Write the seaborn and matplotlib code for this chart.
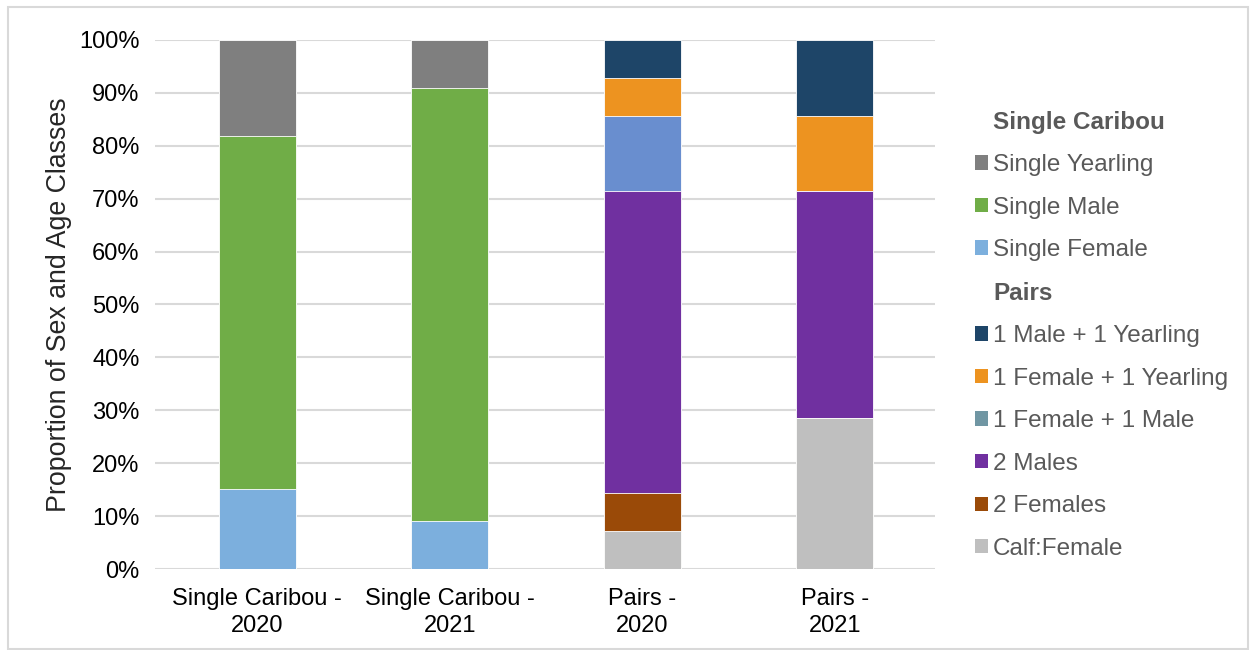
import matplotlib
matplotlib.use("Agg")
import matplotlib.pyplot as plt
import seaborn as sns
from matplotlib.patches import Patch, Rectangle
from matplotlib.ticker import PercentFormatter

# -----------------------------
# Data (percent of each group)
# -----------------------------
categories = ["Single Caribou -\n2020", "Single Caribou -\n2021", "Pairs -\n2020", "Pairs -\n2021"]

single_female = [15.2, 9.1, 0, 0]
single_male = [66.7, 81.8, 0, 0]
single_yearling = [18.1, 9.1, 0, 0]
calf_female = [0, 0, 7.1, 28.6]
two_females = [0, 0, 7.2, 0]
two_males = [0, 0, 57.1, 42.8]
female_male = [0, 0, 14.3, 0]
female_yearling = [0, 0, 7.1, 14.3]
male_yearling = [0, 0, 7.2, 14.3]

# stacking order, bottom to top: (label, values, bar colour, legend colour)
series = [
    ("Single Female", single_female, "#7CAFDD", "#7CAFDD"),
    ("Single Male", single_male, "#70AD47", "#70AD47"),
    ("Single Yearling", single_yearling, "#7F7F7F", "#7F7F7F"),
    ("Calf:Female", calf_female, "#BFBFBF", "#BFBFBF"),
    ("2 Females", two_females, "#9A4A08", "#9A4A08"),
    ("2 Males", two_males, "#7030A0", "#7030A0"),
    ("1 Female + 1 Male", female_male, "#698ECF", "#7096A3"),
    ("1 Female + 1 Yearling", female_yearling, "#ED9320", "#ED9320"),
    ("1 Male + 1 Yearling", male_yearling, "#1E4568", "#1E4568"),
]

sns.set_style("white")
plt.rcParams["font.family"] = ["Liberation Sans", "DejaVu Sans"]

fig = plt.figure(figsize=(12.5, 6.5), dpi=100)
ax = fig.add_axes([0.124, 0.1246, 0.624, 0.814])

# cumulative heights, drawn from the top down so lower segments sit in front
cum = [0.0] * len(categories)
stacks = []
for name, vals, bar_col, leg_col in series:
    cum = [c + v for c, v in zip(cum, vals)]
    stacks.append((cum, bar_col))

for heights, col in reversed(stacks):
    sns.barplot(x=categories, y=heights, color=col, saturation=1, width=0.4,
                edgecolor="white", linewidth=0.6, ax=ax)

ax.set_ylim(0, 100)
ax.set_xlim(-0.53, 3.52)
ax.set_yticks(range(0, 101, 10))
ax.yaxis.set_major_formatter(PercentFormatter(decimals=0))
ax.yaxis.grid(True, color="#D9D9D9", linewidth=1.5)
ax.set_axisbelow(True)
for s in ax.spines.values():
    s.set_visible(False)
ax.tick_params(axis="both", length=0, labelsize=17, colors="black")
ax.tick_params(axis="y", pad=11)
ax.tick_params(axis="x", pad=14)
for lbl in ax.get_xticklabels():
    lbl.set_linespacing(1.25)
ax.set_ylabel("Proportion of Sex and Age Classes", fontsize=19.3, labelpad=5)
ax.set_xlabel("")

# legend with group headers
blank = Patch(facecolor="none", edgecolor="none")
legend_order = [
    ("Single Caribou", None),
    ("Single Yearling", "#7F7F7F"),
    ("Single Male", "#70AD47"),
    ("Single Female", "#7CAFDD"),
    ("Pairs", None),
]
for name, vals, bar_col, leg_col in reversed(series[3:]):
    legend_order.append((name, leg_col))

handles = [blank if c is None else Patch(facecolor=c, edgecolor="none") for _, c in legend_order]
labels = [n for n, _ in legend_order]
leg = fig.legend(handles, labels, loc="upper left", bbox_to_anchor=(0.78, 0.83),
                 frameon=False, fontsize=17.5, handlelength=0.53, handleheight=0.53,
                 handletextpad=0.22, labelspacing=0.845, borderpad=0, borderaxespad=0)
for txt, (_, c) in zip(leg.get_texts(), legend_order):
    txt.set_color("#595959")
    if c is None:
        txt.set_fontweight("bold")

# light frame around the chart area
fig.patches.append(Rectangle((0.006, 0.002), 0.992, 0.987, transform=fig.transFigure,
                             fill=False, edgecolor="#D9D9D9", linewidth=1.5))

fig.savefig("out.png", dpi=100, facecolor="white")
plt.close(fig)
